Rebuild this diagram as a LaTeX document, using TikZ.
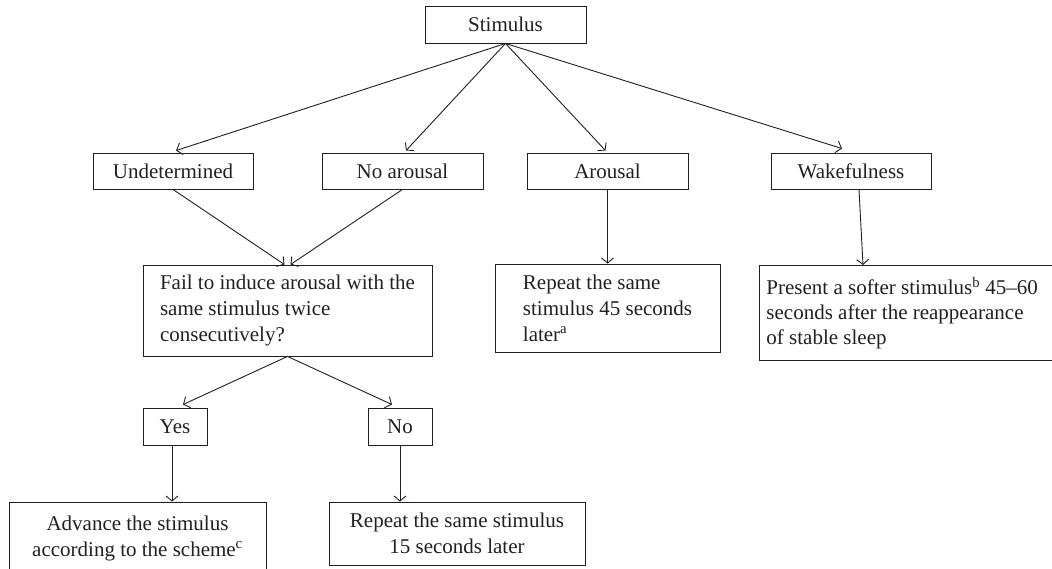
\documentclass[tikz,border=0pt]{standalone}
\usepackage{fontspec}
\setmainfont{Liberation Serif}
\usetikzlibrary{arrows.meta,calc}
\definecolor{ink}{HTML}{231F20}
\begin{document}
\begin{tikzpicture}[x=1pt,y=-1pt,
  box/.style={draw=ink, line width=0.9pt, text=ink, inner sep=0pt, align=center,
    font=\fontsize{21}{26}\selectfont},
  arr/.style={draw=ink, line width=0.9pt, -{Straight Barb[length=5pt,width=12pt]}}]
\useasboundingbox (0,0) rectangle (1052,569);
\clip (0,0) rectangle (1052,569);
% level 0
\node[box, minimum width=161, minimum height=37] (stim) at (505.5,24.5) {Stimulus};
% level 1
\node[box, minimum width=160, minimum height=36] (und) at (173,171) {Undetermined};
\node[box, minimum width=161, minimum height=36] (noar) at (402.5,171) {No arousal};
\node[box, minimum width=161, minimum height=36] (arous) at (607.5,171) {Arousal};
\node[box, minimum width=160, minimum height=36] (wake) at (851,171) {Wakefulness};
% level 2
\node[box, minimum width=289, minimum height=91, align=left] (fail) at (287.5,310.5)
  {Fail to induce arousal with the\\ same stimulus twice\\ consecutively?};
\node[box, minimum width=225, minimum height=88, align=left] (rep45) at (607.5,308)
  {Repeat the same\\ stimulus 45 seconds\\ later\textsuperscript{a}};
\node[box, anchor=north west, inner xsep=7, minimum width=320, minimum height=95, align=left,
  font=\fontsize{21}{25}\selectfont] (present) at (759,265)
  {Present a softer stimulus\textsuperscript{b} 45--60\hspace*{36pt}\\ seconds after the reappearance\\ of stable sleep};
% level 3
\node[box, minimum width=64, minimum height=37] (yes) at (175,426.5) {Yes};
\node[box, minimum width=64, minimum height=37] (no) at (400,426.5) {No};
% level 4
\node[box, minimum width=257, minimum height=72] (adv) at (137.5,538)
  {Advance the stimulus\\ according to the scheme\textsuperscript{c}};
\node[box, minimum width=256, minimum height=63] (rep15) at (457,533.5)
  {Repeat the same stimulus\\ 15 seconds later};
% connectors
\draw[arr] (stim.south) -- ([xshift=3pt,yshift=2pt]und.north);
\draw[arr] (stim.south) -- ([xshift=3.5pt,yshift=2pt]noar.north);
\draw[arr] (stim.south) -- ([xshift=-2pt,yshift=2pt]arous.north);
\draw[arr] (stim.south) -- ([xshift=-9pt,yshift=4pt]wake.north);
\draw[arr] (und.south) -- ([xshift=-3pt]fail.north);
\draw[arr] (noar.south) -- ([xshift=3pt]fail.north);
\draw[arr] (arous.south) -- (arous.south |- rep45.north);
\draw[arr] ([xshift=8pt]wake.south) -- ($(present.north west)+(104,0)$);
\draw[arr] (fail.south) -- ([xshift=8pt,yshift=3pt]yes.north);
\draw[arr] (fail.south) -- ([xshift=-8pt,yshift=3pt]no.north);
\draw[arr] ([xshift=-3pt]yes.south) -- ([xshift=-3pt]yes.south |- adv.north);
\draw[arr] (no.south) -- (no.south |- rep15.north);
\end{tikzpicture}
\end{document}
